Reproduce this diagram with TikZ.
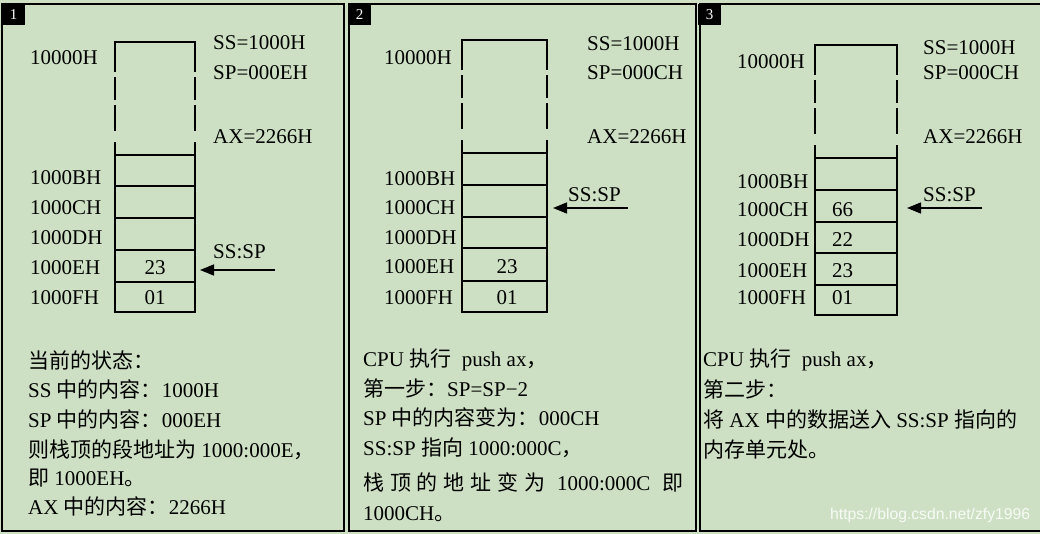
\documentclass[tikz,border=0pt]{standalone}
\usepackage{fontspec}
\setmainfont{Liberation Serif}
\newfontfamily\cjk{Noto Sans CJK SC}
\newfontfamily\wmfont{Liberation Sans}
\usetikzlibrary{arrows.meta}
\definecolor{bg}{RGB}{206,224,196}
\newcommand\zhs[1]{{\cjk #1}}
\newcommand\mystack[5]{% L R T H0 B
  \draw[box] (#1,#3) -- (#2,#3);
  \foreach \xx in {#1,#2} {
    \draw[box] (\xx,#3) -- (\xx,#3+29);
    \draw[box] (\xx,#3+36) -- (\xx,#3+57);
    \draw[box] (\xx,#3+64) -- (\xx,#3+88);
    \draw[box] (\xx,#3+101) -- (\xx,#5);
  }
}
\begin{document}
\begin{tikzpicture}[x=1pt,y=-1pt,
  txt/.style={anchor=base west, inner sep=0pt, font=\fontsize{21}{25}\selectfont},
  ctxt/.style={anchor=base, inner sep=0pt, font=\fontsize{21}{25}\selectfont},
  box/.style={line width=1.8pt, line cap=rect},
  panel/.style={draw=black, line width=2.5pt},
  ptr/.style={line width=1.5pt, -{Triangle[length=14pt,width=11pt]}},
  numbox/.style={fill=black, text=white, inner sep=0pt, minimum width=23pt, minimum height=21pt, font=\fontsize{15}{15}\selectfont}]
\useasboundingbox (0,0) rectangle (1040,534);
\clip (0,0) rectangle (1040,534);
\fill[bg] (0,0) rectangle (1040,534);

% panels
\draw[panel] (2,4) rectangle (344,531);
\draw[panel] (349,4) rectangle (696,531);
\draw[panel] (700,4) rectangle (1045,531);
\node[numbox, anchor=north west] (n1) at (2,4) {1};
\node[numbox, anchor=north west] (n2) at (348,4) {2};
\node[numbox, anchor=north west] (n3) at (698,4) {3};

% ===== panel 1 =====
\mystack{115}{195}{42}{155}{312}
\foreach \yy in {155,186,218,250,282,312} \draw[box] (115,\yy) -- (195,\yy);
\node[txt] (a0) at (30,65) {10000H};
\node[txt] (a1) at (30,185) {1000BH};
\node[txt] (a2) at (30,215) {1000CH};
\node[txt] (a3) at (30,245) {1000DH};
\node[txt] (a4) at (30,275) {1000EH};
\node[txt] (a5) at (30,304) {1000FH};
\node[ctxt] (av1) at (155,275) {23};
\node[ctxt] (av2) at (155,304) {01};
\node[txt] (ass) at (213,50) {SS=1000H};
\node[txt] (asp) at (213,80) {SP=000EH};
\node[txt] (aax) at (213,144) {AX=2266H};
\node[txt] (assp) at (213,259) {SS:SP};
\coordinate (at1) at (275,270);
\coordinate (ah1) at (200,270);
\draw[ptr] (at1) -- (ah1);
\node[txt] (al1) at (28,368) {\zhs{当前的状态：}};
\node[txt] (al2) at (28,397) {SS \zhs{中的内容：}1000H};
\node[txt] (al3) at (28,427) {SP \zhs{中的内容：}000EH};
\node[txt] (al4) at (28,457) {\zhs{则栈顶的段地址为}\ 1000:000E\zhs{，}};
\node[txt] (al5) at (28,485) {\zhs{即} 1000EH\zhs{。}};
\node[txt] (al6) at (28,514) {AX \zhs{中的内容：}2266H};

% ===== panel 2 =====
\mystack{462}{547}{40}{153}{312}
\foreach \yy in {153,185,217,248,281,312} \draw[box] (462,\yy) -- (547,\yy);
\node[txt] (b0) at (384,65) {10000H};
\node[txt] (b1) at (384,186) {1000BH};
\node[txt] (b2) at (384,215) {1000CH};
\node[txt] (b3) at (384,245) {1000DH};
\node[txt] (b4) at (384,274) {1000EH};
\node[txt] (b5) at (384,304) {1000FH};
\node[ctxt] (bv1) at (507,274) {23};
\node[ctxt] (bv2) at (507,304) {01};
\node[txt] (bss) at (587,51) {SS=1000H};
\node[txt] (bsp) at (587,80) {SP=000CH};
\node[txt] (bax) at (587,144) {AX=2266H};
\node[txt] (bssp) at (568,202) {SS:SP};
\coordinate (bt1) at (628,208);
\coordinate (bh1) at (553,208);
\draw[ptr] (bt1) -- (bh1);
\node[txt] (bl1) at (363,366) {CPU \zhs{执行}\ \ push ax\zhs{，}};
\node[txt] (bl2) at (363,396) {\zhs{第一步：}SP=SP−2};
\node[txt] (bl3) at (363,425) {SP \zhs{中的内容变为：}000CH};
\node[txt] (bl4) at (363,455) {SS:SP \zhs{指向} 1000:000C\zhs{，}};
\node[txt] (bl5) at (363,490) {\makebox[320pt][s]{\zhs{栈} \zhs{顶} \zhs{的} \zhs{地} \zhs{址} \zhs{变} \zhs{为} \ 1000:000C \ \zhs{即}}};
\node[txt] (bl6) at (363,520) {1000CH\zhs{。}};

% ===== panel 3 =====
\mystack{815}{897}{45}{158}{315}
\foreach \yy in {158,190,222,253,285,315} \draw[box] (815,\yy) -- (897,\yy);
\node[txt] (c0) at (737,69) {10000H};
\node[txt] (c1) at (737,189) {1000BH};
\node[txt] (c2) at (737,217) {1000CH};
\node[txt] (c3) at (737,247) {1000DH};
\node[txt] (c4) at (737,277) {1000EH};
\node[txt] (c5) at (737,305) {1000FH};
\node[txt] (cv1) at (832,217) {66};
\node[txt] (cv2) at (832,247) {22};
\node[txt] (cv3) at (832,277) {23};
\node[txt] (cv4) at (832,305) {01};
\node[txt] (css) at (923,55) {SS=1000H};
\node[txt] (csp) at (923,80) {SP=000CH};
\node[txt] (cax) at (923,144) {AX=2266H};
\node[txt] (cssp) at (923,202) {SS:SP};
\coordinate (ct1) at (982,208);
\coordinate (ch1) at (907,208);
\draw[ptr] (ct1) -- (ch1);
\node[txt] (cl1) at (703,366) {CPU \zhs{执行}\ \ push ax\zhs{，}};
\node[txt] (cl2) at (703,397) {\zhs{第二步：}};
\node[txt] (cl3) at (703,427) {\zhs{将} AX \zhs{中的数据送入} SS:SP \zhs{指向的}};
\node[txt] (cl4) at (703,457) {\zhs{内存单元处。}};

\node[anchor=base west, inner sep=0pt, text=white, opacity=0.85, font=\wmfont\fontsize{15.7}{16}\selectfont] (wm) at (830,519) {https://blog.csdn.net/zfy1996};
\end{tikzpicture}
\end{document}
